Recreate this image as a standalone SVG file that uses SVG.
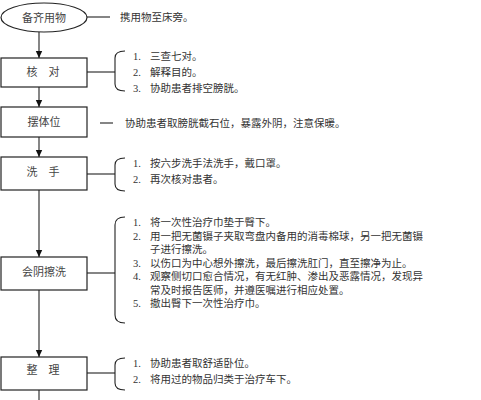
<svg xmlns="http://www.w3.org/2000/svg" width="481" height="400" viewBox="0 0 481 400">
<defs>
<marker id="arr" markerWidth="8" markerHeight="8" refX="7" refY="4" orient="auto" markerUnits="userSpaceOnUse">
<path d="M0,0.8 L7,4 L0,7.2 Z" fill="#111"/>
</marker>
<style>
.box{fill:#fff;stroke:#222;stroke-width:1.2}
.ln{fill:none;stroke:#222;stroke-width:1.1}
.bt{font-family:"Liberation Serif","Noto Sans CJK SC",serif;font-size:11px;fill:#444;text-anchor:middle}
.t{font-family:"Liberation Serif","Noto Sans CJK SC",serif;font-size:10.5px;fill:#333}
</style>
</defs>
<rect width="481" height="400" fill="#fff"/>
<g id="connectors">
<line class="ln" x1="39" y1="32" x2="39" y2="58" marker-end="url(#arr)"/>
<line class="ln" x1="39" y1="87" x2="39" y2="107" marker-end="url(#arr)"/>
<line class="ln" x1="39" y1="137" x2="39" y2="157" marker-end="url(#arr)"/>
<line class="ln" x1="39" y1="190" x2="39" y2="257" marker-end="url(#arr)"/>
<line class="ln" x1="39" y1="290" x2="39" y2="357" marker-end="url(#arr)"/>
<line class="ln" x1="39" y1="390" x2="39" y2="400"/>
<line class="ln" x1="87" y1="17" x2="110" y2="17"/>
<line class="ln" x1="87" y1="72" x2="115" y2="72"/>
<path class="ln" d="M125,51 Q115,51 115,58 V84 Q115,91 125,91"/>
<line class="ln" x1="100" y1="123" x2="113" y2="123"/>
<line class="ln" x1="87" y1="174" x2="115" y2="174"/>
<path class="ln" d="M125,158 Q115,158 115,165 V184 Q115,191 125,191"/>
<line class="ln" x1="87" y1="273" x2="115" y2="273"/>
<path class="ln" d="M125,217 Q115,217 115,225 V315 Q115,323 125,323"/>
<line class="ln" x1="87" y1="373" x2="115" y2="373"/>
<path class="ln" d="M125,358 Q115,358 115,365 V383 Q115,390 125,390"/>
</g>
<g id="n-prepare">
<ellipse class="box" cx="44" cy="17.5" rx="43" ry="14.5"/>
<text class="bt" x="44" y="21.5">备齐用物</text>
<text class="t" x="120" y="21">携用物至床旁。</text>
</g>
<g id="n-check">
<rect class="box" x="1" y="58" width="86" height="29"/>
<text class="bt" x="43" y="76">核　对</text>
<text class="t" y="60"><tspan x="133">1.</tspan><tspan x="150">三查七对。</tspan></text>
<text class="t" y="76"><tspan x="133">2.</tspan><tspan x="150">解释目的。</tspan></text>
<text class="t" y="92"><tspan x="133">3.</tspan><tspan x="150">协助患者排空膀胱。</tspan></text>
</g>
<g id="n-position">
<rect class="box" x="1" y="107" width="86" height="30"/>
<text class="bt" x="44" y="126">摆体位</text>
<text class="t" x="125" y="127">协助患者取膀胱截石位，暴露外阴，注意保暖。</text>
</g>
<g id="n-wash">
<rect class="box" x="1" y="157" width="86" height="33"/>
<text class="bt" x="43" y="176">洗　手</text>
<text class="t" y="167"><tspan x="133">1.</tspan><tspan x="150">按六步洗手法洗手，戴口罩。</tspan></text>
<text class="t" y="183"><tspan x="133">2.</tspan><tspan x="150">再次核对患者。</tspan></text>
</g>
<g id="n-clean">
<rect class="box" x="1" y="257" width="86" height="33"/>
<text class="bt" x="44" y="276">会阴擦洗</text>
<text class="t" y="226"><tspan x="133">1.</tspan><tspan x="150">将一次性治疗巾垫于臀下。</tspan></text>
<text class="t" y="239.5"><tspan x="133">2.</tspan><tspan x="150">用一把无菌镊子夹取弯盘内备用的消毒棉球，另一把无菌镊</tspan></text>
<text class="t" x="150" y="253">子进行擦洗。</text>
<text class="t" y="266.5"><tspan x="133">3.</tspan><tspan x="150">以伤口为中心想外擦洗，最后擦洗肛门，直至擦净为止。</tspan></text>
<text class="t" y="280"><tspan x="133">4.</tspan><tspan x="150">观察侧切口愈合情况，有无红肿、渗出及恶露情况，发现异</tspan></text>
<text class="t" x="150" y="293.5">常及时报告医师，并遵医嘱进行相应处置。</text>
<text class="t" y="307"><tspan x="133">5.</tspan><tspan x="150">撤出臀下一次性治疗巾。</tspan></text>
</g>
<g id="n-tidy">
<rect class="box" x="1" y="357" width="86" height="33"/>
<text class="bt" x="43" y="374">整　理</text>
<text class="t" y="367"><tspan x="133">1.</tspan><tspan x="150">协助患者取舒适卧位。</tspan></text>
<text class="t" y="383"><tspan x="133">2.</tspan><tspan x="150">将用过的物品归类于治疗车下。</tspan></text>
</g>
</svg>
